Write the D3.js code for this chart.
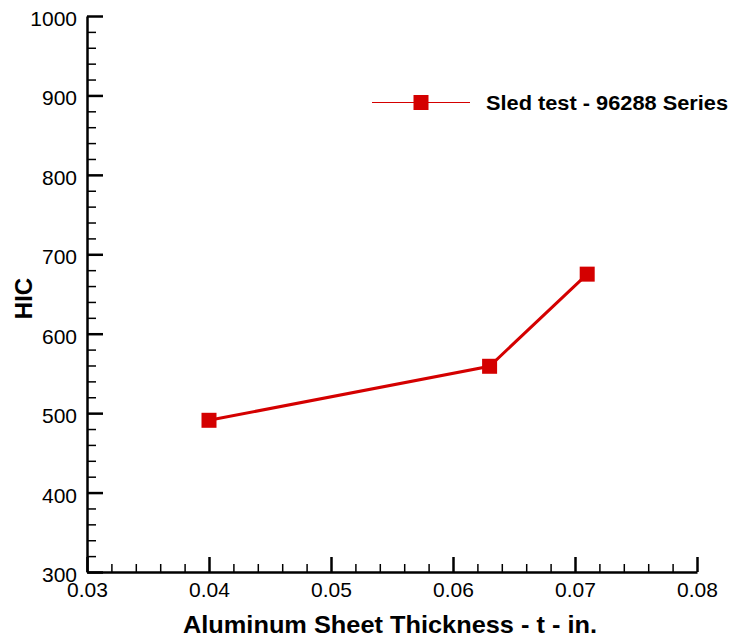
<!DOCTYPE html>
<html>
<head>
<meta charset="utf-8">
<script src="https://cdn.jsdelivr.net/npm/d3@7"></script>
<style>
  html, body { margin: 0; padding: 0; background: #fff; }
  svg { display: block; font-family: "Liberation Sans", Arial, sans-serif; }
</style>
</head>
<body>
<svg id="chart" width="730" height="636"></svg>
<script>
// Sled test results: HIC against aluminum sheet thickness
const thickness = [0.04, 0.063, 0.071];
const hic = [491, 559, 675];
const seriesName = "Sled test - 96288 Series";
const xMajorTicks = [0.03, 0.04, 0.05, 0.06, 0.07, 0.08];
const xTickLabels = ["0.03", "0.04", "0.05", "0.06", "0.07", "0.08"];
const yMajorTicks = [300, 400, 500, 600, 700, 800, 900, 1000];
const yTickLabels = ["300", "400", "500", "600", "700", "800", "900", "1000"];
const xTitle = "Aluminum Sheet Thickness - t - in.";
const yTitle = "HIC";

const svg = d3.select("#chart");
const plotLeft = 87, plotRight = 697, plotTop = 16, plotBottom = 572;
const red = "#d40000";
const font = "Liberation Sans, Arial, sans-serif";

const x = d3.scaleLinear().domain([0.03, 0.08]).range([plotLeft, plotRight]);
const y = d3.scaleLinear().domain([300, 1000]).range([plotBottom, plotTop]);

const xMinor = d3.range(0.03, 0.0801, 0.002).filter(v => !xMajorTicks.some(t => Math.abs(t - v) < 1e-9));
const yMinor = d3.range(300, 1001, 20).filter(v => v % 100 !== 0);

// Minor ticks (point inward)
svg.append("g").attr("transform", `translate(0,${plotBottom})`)
  .call(d3.axisBottom(x).tickValues(xMinor).tickFormat("").tickSizeInner(-8).tickSizeOuter(0))
  .call(g => g.select(".domain").remove())
  .call(g => g.selectAll("line").attr("stroke", "#000").attr("stroke-width", 1.5));
svg.append("g").attr("transform", `translate(${plotLeft},0)`)
  .call(d3.axisLeft(y).tickValues(yMinor).tickFormat("").tickSizeInner(-9).tickSizeOuter(0))
  .call(g => g.select(".domain").remove())
  .call(g => g.selectAll("line").attr("stroke", "#000").attr("stroke-width", 1.5));

// Major ticks with labels
svg.append("g").attr("transform", `translate(0,${plotBottom})`)
  .call(d3.axisBottom(x).tickValues(xMajorTicks).tickFormat((d, i) => xTickLabels[i]).tickSizeInner(-15).tickSizeOuter(0).tickPadding(10))
  .call(g => g.select(".domain").attr("stroke", "#000").attr("stroke-width", 2.5))
  .call(g => g.selectAll("line").attr("stroke", "#000").attr("stroke-width", 2.5))
  .call(g => g.selectAll("text").attr("font-size", 21).attr("fill", "#000").attr("font-family", font));
svg.append("g").attr("transform", `translate(${plotLeft},0)`)
  .call(d3.axisLeft(y).tickValues(yMajorTicks).tickFormat((d, i) => yTickLabels[i]).tickSizeInner(-16).tickSizeOuter(0).tickPadding(10))
  .call(g => g.select(".domain").attr("stroke", "#000").attr("stroke-width", 2.5))
  .call(g => g.selectAll("line").attr("stroke", "#000").attr("stroke-width", 2.5))
  .call(g => g.selectAll("text").attr("font-size", 21).attr("fill", "#000").attr("dy", "0.45em").attr("font-family", font));

// Axis titles
svg.append("text").attr("x", 390).attr("y", 633).attr("text-anchor", "middle")
  .attr("font-size", 24).attr("font-weight", "bold")
  .attr("textLength", 414).attr("lengthAdjust", "spacingAndGlyphs").text(xTitle);
svg.append("text").attr("transform", "translate(31.5,298.5) rotate(-90)").attr("text-anchor", "middle")
  .attr("font-size", 24).attr("font-weight", "bold").text(yTitle);

// Series line and markers
const pts = thickness.map((t, i) => [t, hic[i]]);
svg.append("path").datum(pts)
  .attr("fill", "none").attr("stroke", red).attr("stroke-width", 3)
  .attr("d", d3.line().x(d => x(d[0])).y(d => y(d[1])));
const ms = 15;
svg.selectAll("rect.pt").data(pts).enter().append("rect").attr("class", "pt")
  .attr("x", d => x(d[0]) - ms / 2).attr("y", d => y(d[1]) - ms / 2)
  .attr("width", ms).attr("height", ms).attr("fill", red);

// Legend
const lg = svg.append("g");
lg.append("line").attr("x1", 372).attr("x2", 470).attr("y1", 102.5).attr("y2", 102.5)
  .attr("stroke", red).attr("stroke-width", 1.2);
lg.append("rect").attr("x", 421 - ms / 2).attr("y", 102.5 - ms / 2).attr("width", ms).attr("height", ms).attr("fill", red);
lg.append("text").attr("x", 486).attr("y", 109.5).attr("font-size", 20).attr("font-weight", "bold")
  .attr("textLength", 242).attr("lengthAdjust", "spacingAndGlyphs").text(seriesName);
</script>
</body>
</html>
